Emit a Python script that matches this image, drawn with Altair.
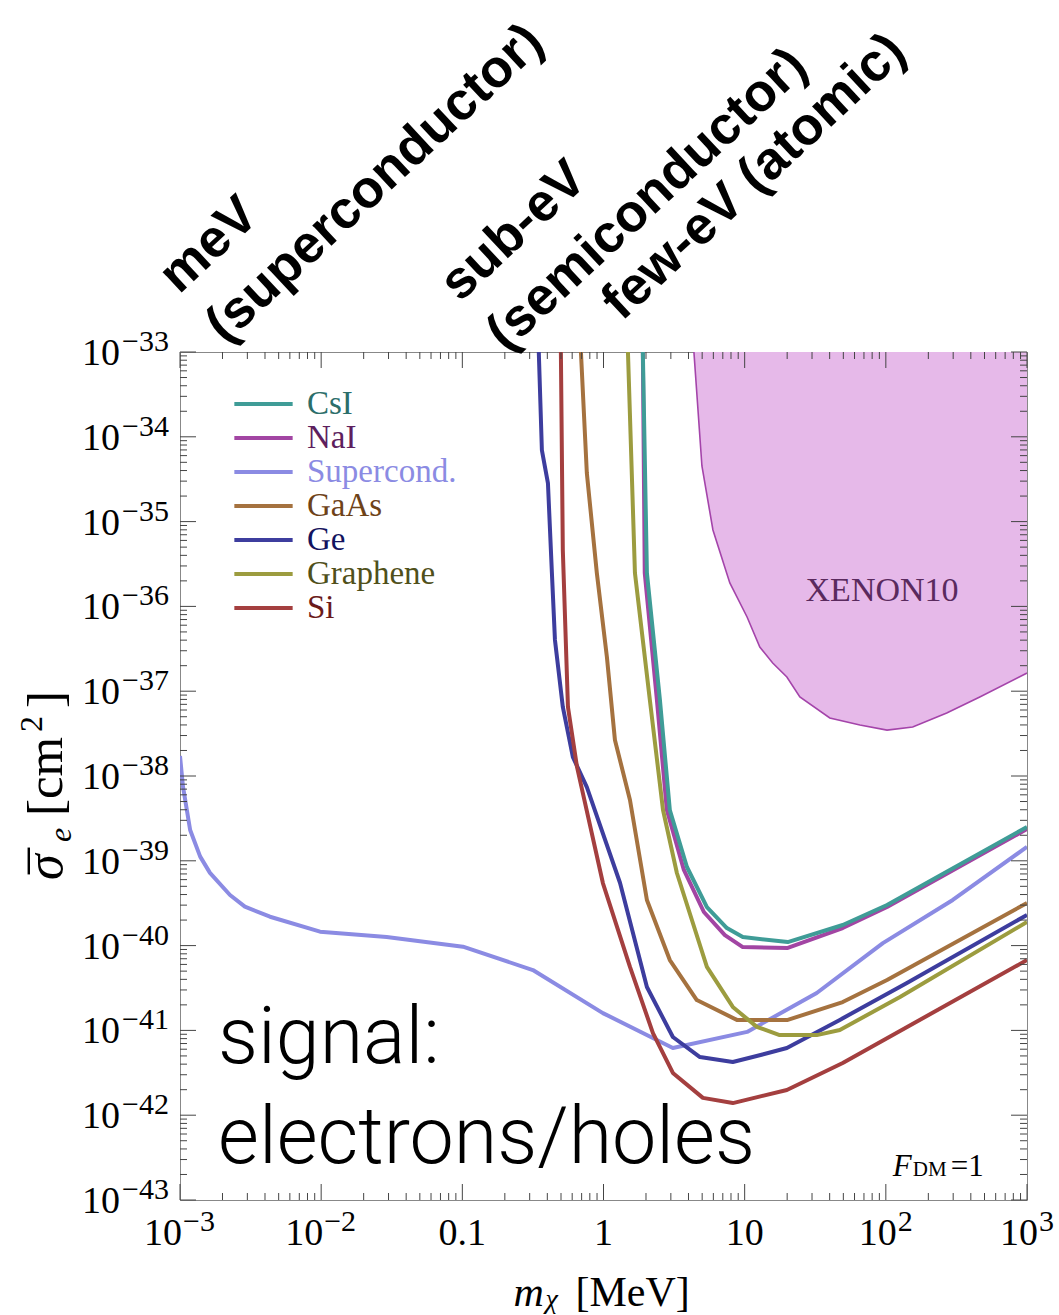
import altair as alt
import pandas as pd

# Reach of each target: dark-matter mass m_chi [MeV] and reference cross section sigma_e [cm^2]
csi_mass = [1.90, 2.03, 2.51, 2.95, 3.90, 5.40, 7.48, 9.70, 20.2, 49.5, 102, 1000]
csi_sigma = [1e-33, 2.48e-36, 7.87e-38, 3.97e-39, 8.45e-40, 2.85e-40, 1.61e-40, 1.26e-40, 1.10e-40, 1.75e-40, 3.01e-40, 2.51e-39]

nai_mass = [1.90, 1.96, 2.39, 2.81, 3.71, 5.14, 7.24, 9.70, 20.2, 49.5, 102, 1000]
nai_sigma = [1e-33, 2.48e-36, 7.87e-38, 3.97e-39, 7.8e-40, 2.49e-40, 1.33e-40, 9.6e-41, 9.4e-41, 1.61e-40, 2.85e-40, 2.37e-39]

sc_mass = [0.001, 0.00105, 0.00118, 0.00139, 0.00163, 0.00226, 0.00288, 0.00434, 0.00982, 0.0291,
           0.101, 0.316, 0.99, 3.10, 10.4, 32.4, 95.3, 298, 1000]
sc_sigma = [1.72e-38, 7.5e-39, 2.31e-39, 1.12e-39, 7.2e-40, 3.95e-40, 2.88e-40, 2.19e-40, 1.46e-40, 1.26e-40,
            9.7e-41, 5.15e-41, 1.60e-41, 6.2e-42, 9.6e-42, 2.76e-41, 1.07e-40, 3.45e-40, 1.46e-39]

gaas_mass = [0.692, 0.762, 0.897, 1.057, 1.205, 1.54, 2.03, 2.95, 4.58, 8.81, 20.2, 49.5, 102, 1000]
gaas_sigma = [1e-33, 3.74e-35, 2.48e-36, 2.53e-37, 2.66e-38, 5.21e-39, 3.45e-40, 6.76e-41, 2.28e-41, 1.33e-41,
              1.33e-41, 2.16e-41, 3.93e-41, 3.18e-40]

ge_mass = [0.348, 0.366, 0.404, 0.431, 0.453, 0.515, 0.607, 0.762, 1.31, 2.03, 3.10, 4.82, 8.24, 11.4,
           19.9, 47.2, 141, 1000]
ge_sigma = [1e-33, 6.98e-35, 2.85e-35, 2.48e-36, 4.02e-37, 6.52e-38, 1.67e-38, 7.41e-39, 5.47e-40, 3.25e-41,
            8.36e-42, 4.85e-42, 4.24e-42, 4.85e-42, 6.2e-42, 1.33e-41, 3.62e-41, 2.30e-40]

graphene_mass = [1.49, 1.67, 2.13, 2.64, 3.31, 5.40, 8.24, 12.2, 17.7, 32.4, 47.2, 126, 1000]
graphene_sigma = [1e-33, 2.48e-36, 7.87e-38, 3.97e-39, 7.18e-40, 5.6e-41, 1.89e-41, 1.10e-41, 8.8e-42, 8.8e-42,
                  1.01e-41, 2.48e-41, 1.90e-40]

si_mass = [0.499, 0.515, 0.560, 0.649, 0.99, 1.54, 2.24, 3.10, 5.06, 8.24, 19.9, 49.5, 1000]
si_sigma = [1e-33, 4.62e-36, 6.52e-38, 1.28e-38, 5.47e-40, 5.6e-41, 9.3e-42, 3.15e-42, 1.60e-42, 1.39e-42,
            1.98e-42, 4.13e-42, 6.76e-41]

# XENON10 exclusion boundary (excluded region lies above it)
xenon_mass = [4.37, 4.98, 5.96, 7.85, 10.4, 12.8, 15.8, 19.9, 24.6, 40.1, 65.5, 102, 155, 270, 463, 1000]
xenon_sigma = [1e-33, 4.53e-35, 7.96e-36, 1.89e-36, 7.5e-37, 3.32e-37, 2.15e-37, 1.47e-37, 8.55e-38, 4.83e-38,
               3.99e-38, 3.48e-38, 3.78e-38, 5.53e-38, 8.55e-38, 1.64e-37]

names = ["CsI", "NaI", "Supercond.", "GaAs", "Ge", "Graphene", "Si"]
line_colors = ["#3f9c97", "#a245a3", "#8b8be3", "#a5723f", "#3d3d9e", "#9c9c3f", "#a43f3f"]
label_colors = ["#2c6e6a", "#5e1f5e", "#8b8be3", "#6e4218", "#13135e", "#50501a", "#6a1a1a"]

# axis decades
x_decades = [1e-3, 1e-2, 1e-1, 1.0, 1e1, 1e2, 1e3]
y_exponents = list(range(-43, -32))

W, H = 847, 848
SERIF = "Liberation Serif"
SANS = "Liberation Sans"
TICK = "#444444"

xscale = alt.Scale(type="log", domain=[1e-3, 1e3], nice=False)
yscale = alt.Scale(type="log", domain=[1e-43, 1e-33], nice=False)


def X(field):
    return alt.X(field, type="quantitative", scale=xscale, axis=None)


def Y(field):
    return alt.Y(field, type="quantitative", scale=yscale, axis=None)


# ---- long table of the reach curves (NaI before CsI so CsI sits on top) ----
series = [("NaI", nai_mass, nai_sigma), ("CsI", csi_mass, csi_sigma), ("Supercond.", sc_mass, sc_sigma),
          ("GaAs", gaas_mass, gaas_sigma), ("Ge", ge_mass, ge_sigma),
          ("Graphene", graphene_mass, graphene_sigma), ("Si", si_mass, si_sigma)]
rows = []
for name, ms, ss in series:
    for i, (m, s) in enumerate(zip(ms, ss)):
        rows.append({"material": name, "m": m, "sigma": s, "idx": i})
curves = pd.DataFrame(rows)

label_expr = " : ".join(f"datum.label === '{n}' ? '{c}'" for n, c in zip(names, label_colors)) + " : 'black'"

layers = []

# XENON10 excluded region
xenon = pd.DataFrame({"m": xenon_mass, "sigma": xenon_sigma, "top": [1e-33] * len(xenon_mass)})
layers.append(alt.Chart(xenon).mark_area(color="#e6b9e9", opacity=1, clip=True)
              .encode(x=X("m"), y=Y("sigma"), y2=alt.Y2("top")))
layers.append(alt.Chart(xenon).mark_line(color="#a444aa", strokeWidth=1.6, clip=True)
              .encode(x=X("m"), y=Y("sigma")))

layers.append(
    alt.Chart(curves).mark_line(strokeWidth=4, clip=True, strokeJoin="round").encode(
        x=X("m"), y=Y("sigma"),
        color=alt.Color("material:N", scale=alt.Scale(domain=names, range=line_colors),
                        legend=alt.Legend(title=None, orient="none", legendX=52, legendY=35, padding=0,
                                          symbolType="stroke", symbolSize=3400, symbolStrokeWidth=4,
                                          labelFont=SERIF, labelFontSize=33, labelOffset=12,
                                          clipHeight=34, rowPadding=0, labelLimit=400,
                                          labelColor={"expr": label_expr})),
        order="idx:Q",
    )
)

# ---- inward ticks on all four sides ----
x_minor = [k * d for d in x_decades[:-1] for k in range(2, 10)]
y_major = [10.0 ** e for e in y_exponents]
y_minor = [k * 10.0 ** e for e in y_exponents[:-1] for k in range(2, 10)]


def tick_layers(xvals, yvals, length):
    xs = alt.Chart(pd.DataFrame({"v": xvals}))
    ys = alt.Chart(pd.DataFrame({"v": yvals}))
    style = dict(color=TICK, strokeWidth=1)
    return [
        xs.mark_rule(**style).encode(x=X("v"), y=alt.value(H), y2=alt.value(H - length)),
        xs.mark_rule(**style).encode(x=X("v"), y=alt.value(0), y2=alt.value(length)),
        ys.mark_rule(**style).encode(y=Y("v"), x=alt.value(0), x2=alt.value(length)),
        ys.mark_rule(**style).encode(y=Y("v"), x=alt.value(W), x2=alt.value(W - length)),
    ]


layers += tick_layers(x_decades, y_major, 16)
layers += tick_layers(x_minor, y_minor, 7)

# ---- y tick labels: 10^exp ----
ylab = pd.DataFrame({"v": y_major, "exp": ["\u2212%d" % -e for e in y_exponents]})
layers.append(alt.Chart(ylab).mark_text(font=SERIF, fontSize=38, align="right", baseline="middle", dy=2)
              .encode(y=Y("v"), x=alt.value(-60), text=alt.value("10")))
layers.append(alt.Chart(ylab).mark_text(font=SERIF, fontSize=30, align="left", baseline="middle", dy=-10)
              .encode(y=Y("v"), x=alt.value(-58), text="exp:N"))

# ---- x tick labels ----
xneg = pd.DataFrame({"v": [1e-3, 1e-2], "exp": ["\u22123", "\u22122"]})
xpos = pd.DataFrame({"v": [1e2, 1e3], "exp": ["2", "3"]})
xplain = pd.DataFrame({"v": [0.1, 1.0, 10.0], "txt": ["0.1", "1", "10"]})
for df, shift in [(xneg, 2), (xpos, 11)]:
    layers.append(alt.Chart(df).mark_text(font=SERIF, fontSize=38, align="right", baseline="alphabetic", dx=shift)
                  .encode(x=X("v"), y=alt.value(H + 45), text=alt.value("10")))
    layers.append(alt.Chart(df).mark_text(font=SERIF, fontSize=30, align="left", baseline="alphabetic", dx=shift + 1)
                  .encode(x=X("v"), y=alt.value(H + 31), text="exp:N"))
layers.append(alt.Chart(xplain).mark_text(font=SERIF, fontSize=38, align="center", baseline="alphabetic")
              .encode(x=X("v"), y=alt.value(H + 45), text="txt:N"))

# ---- axis titles ----
xt = alt.Chart(pd.DataFrame({"v": [1.0]}))
layers.append(xt.mark_text(font=SERIF, fontSize=42, fontStyle="italic", align="left", dx=-90)
              .encode(x=X("v"), y=alt.value(H + 93), text=alt.value("m")))
layers.append(xt.mark_text(font=SERIF, fontSize=28, fontStyle="italic", align="left", dx=-58)
              .encode(x=X("v"), y=alt.value(H + 100), text=alt.value("\u03c7")))
layers.append(xt.mark_text(font=SERIF, fontSize=42, align="left", dx=-28)
              .encode(x=X("v"), y=alt.value(H + 93), text=alt.value("[MeV]")))

# rotated y title: sigma-bar_e [cm^2]
ytitle_parts = [("\u03c3", 52, "italic", 0, 0), ("\u00af", 52, "normal", 6, 6), ("e", 32, "italic", 38, 9),
                ("[cm", 51, "normal", 64, 0), ("2", 32, "normal", 148, -20), ("]", 51, "normal", 172, 0)]
for txt, size, style, dx, dy in ytitle_parts:
    layers.append(alt.Chart(pd.DataFrame({"t": [txt]}))
                  .mark_text(font=SERIF, fontSize=size, fontStyle=style, angle=270, align="left",
                             baseline="alphabetic", dx=dx, dy=dy)
                  .encode(x=alt.value(-118), y=alt.value(528), text="t:N"))

# ---- in-plot annotations ----
layers.append(alt.Chart(pd.DataFrame({"m": [94.0], "sigma": [1.5e-36], "t": ["XENON10"]}))
              .mark_text(font=SERIF, fontSize=34, color="#5a2a5e", align="center", baseline="middle")
              .encode(x=X("m"), y=Y("sigma"), text="t:N"))

fdm = alt.Chart(pd.DataFrame({"m": [112.0], "sigma": [2.45e-43]}))
layers.append(fdm.mark_text(font=SERIF, fontSize=31, fontStyle="italic", align="left")
              .encode(x=X("m"), y=Y("sigma"), text=alt.value("F")))
layers.append(fdm.mark_text(font=SERIF, fontSize=21, align="left", dx=20, dy=3)
              .encode(x=X("m"), y=Y("sigma"), text=alt.value("DM")))
layers.append(fdm.mark_text(font=SERIF, fontSize=31, align="left", dx=58)
              .encode(x=X("m"), y=Y("sigma"), text=alt.value("=1")))

layers.append(alt.Chart(pd.DataFrame({"m": [1.86e-3], "sigma": [4.1e-42], "t": ["signal:\nelectrons/holes"]}))
              .mark_text(font="Roboto", fontWeight=300, fontSize=79, lineBreak="\n", lineHeight=100,
                         align="left", baseline="alphabetic", color="black")
              .encode(x=X("m"), y=Y("sigma"), text="t:N"))

# energy-threshold regimes written diagonally above the frame
regimes = pd.DataFrame({
    "m": [9.84e-4, 0.0962, 1.349],
    "sigma": [4.7e-33, 3.78e-33, 2.26e-33],
    "t": ["meV\n(superconductor)", "sub-eV\n(semiconductor)", "few-eV (atomic)"],
})
layers.append(alt.Chart(regimes)
              .mark_text(font=SANS, fontWeight="bold", fontSize=53, angle=317, lineBreak="\n", lineHeight=68,
                         align="left", baseline="alphabetic", color="black")
              .encode(x=X("m"), y=Y("sigma"), text="t:N"))

chart = (
    alt.layer(*layers)
    .properties(width=W, height=H, padding={"left": 180, "top": 352, "right": 32, "bottom": 115},
                autosize=alt.AutoSizeParams(type="none"))
    .configure(background="white")
    .configure_view(stroke="#888888", strokeWidth=1)
)

chart.save("out.html", embed_options={"renderer": "svg", "actions": False})
